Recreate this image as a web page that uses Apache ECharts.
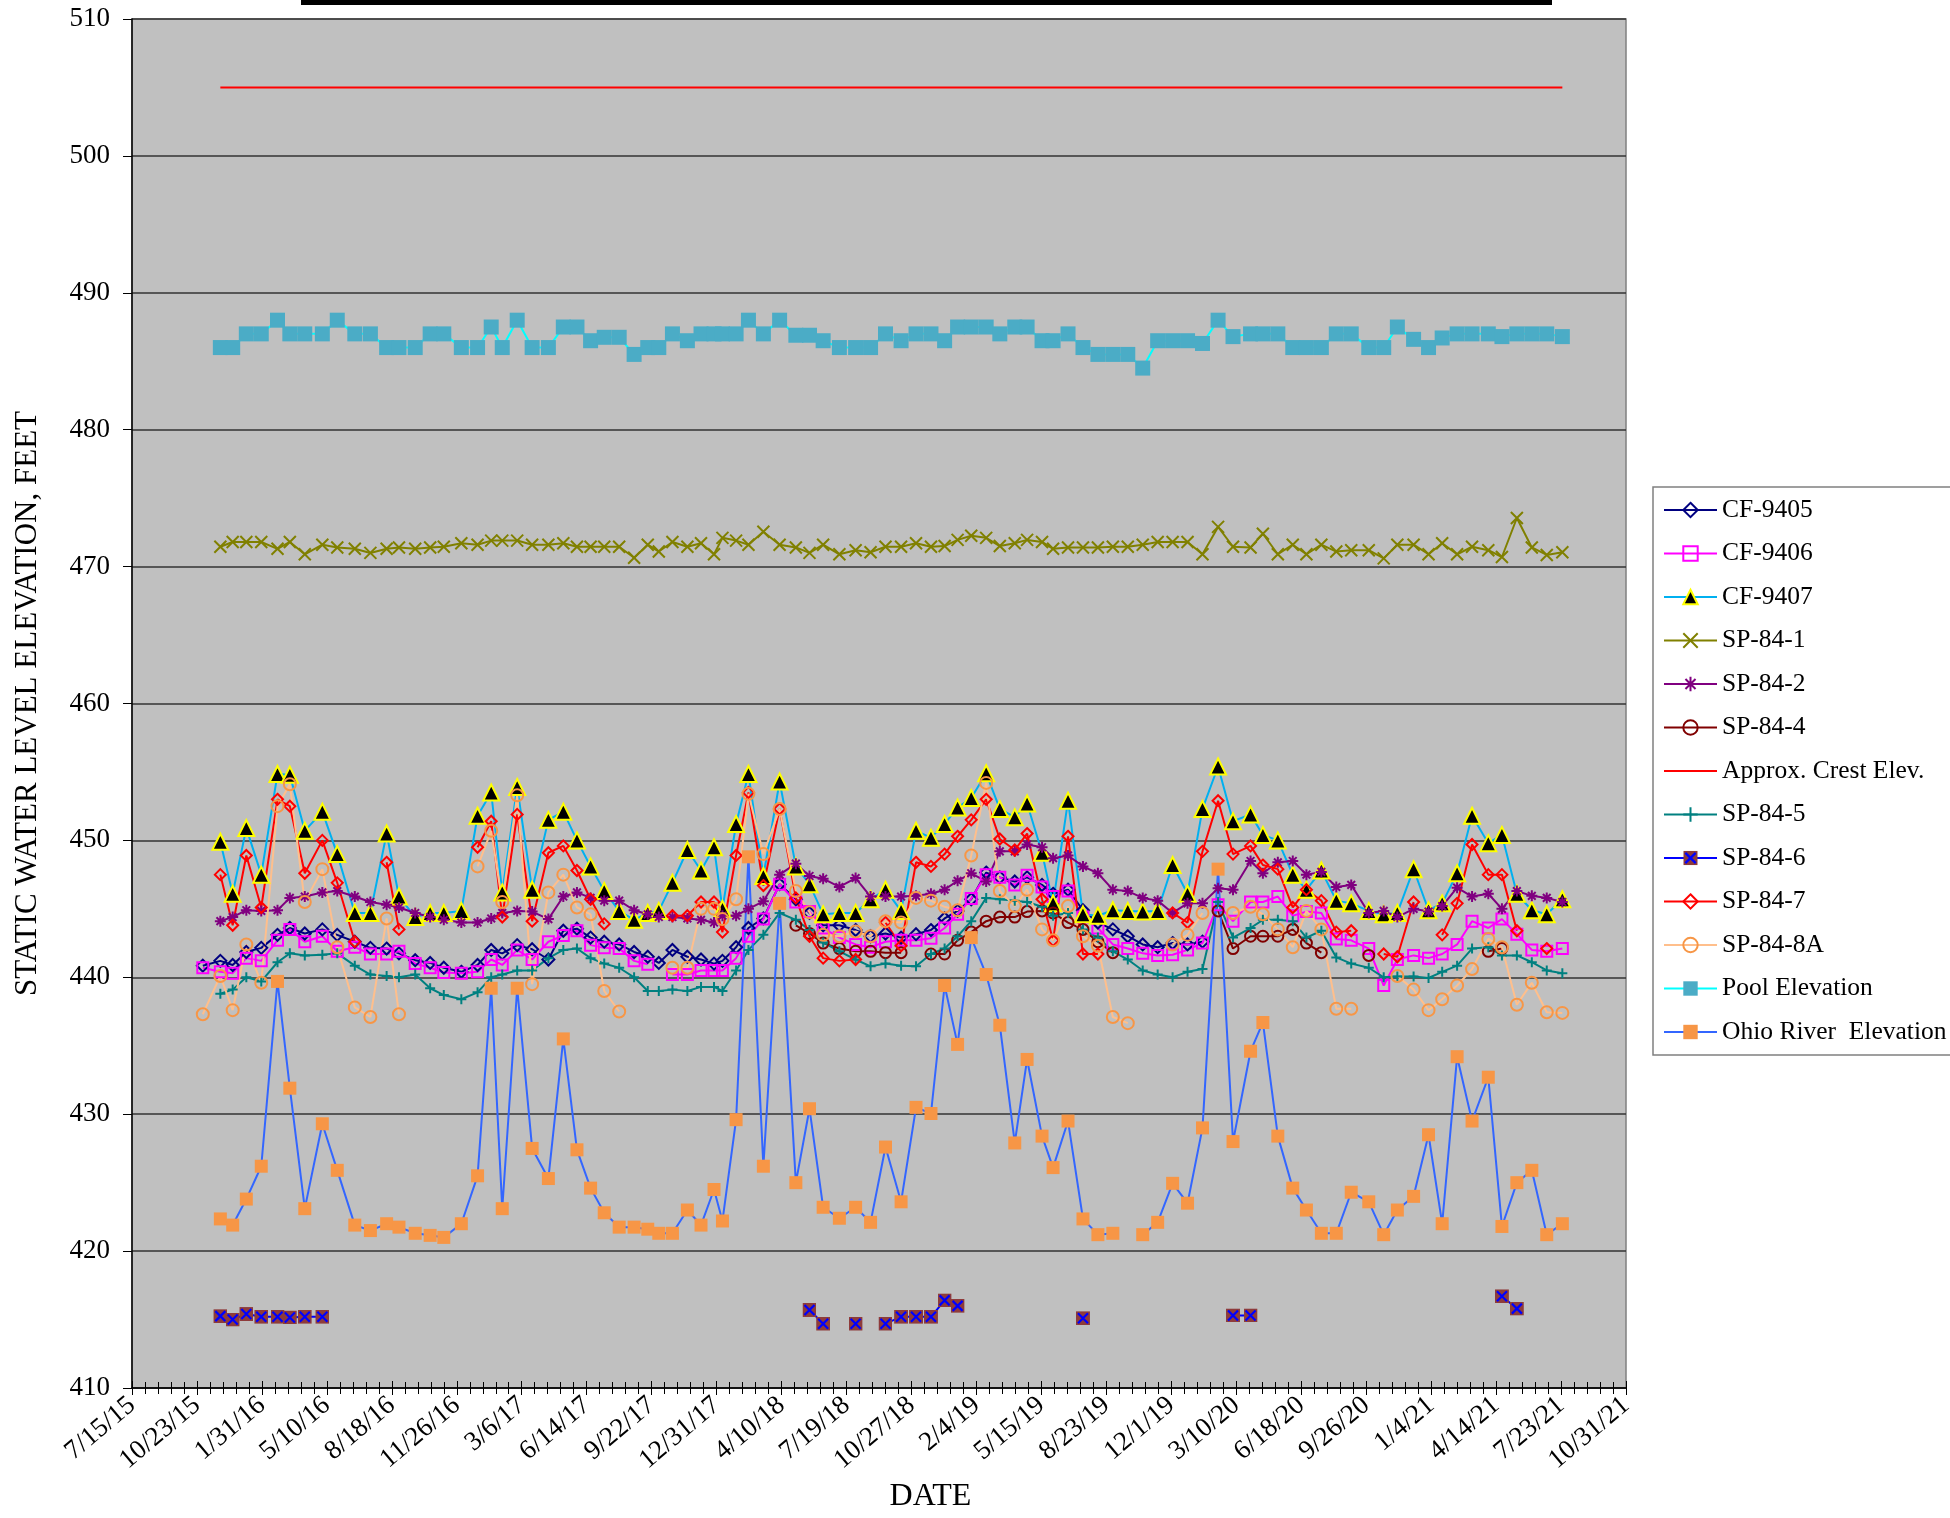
<!DOCTYPE html>
<html>
<head>
<meta charset="utf-8">
<title>Static Water Level Elevation</title>
<script src="https://cdn.jsdelivr.net/npm/echarts/dist/echarts.min.js"></script>
<style>
  html, body { margin: 0; padding: 0; background: #fff; }
  #chart { width: 1950px; height: 1518px; }
</style>
</head>
<body>
<div id="chart"></div>
<script>
// sampling events (shared by all wells / gauges)
const sampleDates = [
  '2015-11-01','2015-11-28','2015-12-17','2016-01-07','2016-01-30','2016-02-24','2016-03-14','2016-04-06','2016-05-03','2016-05-26',
  '2016-06-22','2016-07-16','2016-08-10','2016-08-29','2016-09-23','2016-10-16','2016-11-06','2016-12-03','2016-12-28','2017-01-18',
  '2017-02-04','2017-02-27','2017-03-22','2017-04-16','2017-05-09','2017-05-30','2017-06-20','2017-07-11','2017-08-03','2017-08-26',
  '2017-09-16','2017-10-03','2017-10-24','2017-11-16','2017-12-07','2017-12-27','2018-01-09','2018-01-30','2018-02-18','2018-03-13',
  '2018-04-07','2018-05-02','2018-05-23','2018-06-13','2018-07-08','2018-08-02','2018-08-25','2018-09-17','2018-10-11','2018-11-03',
  '2018-11-26','2018-12-17','2019-01-06','2019-01-27','2019-02-19','2019-03-12','2019-04-04','2019-04-23','2019-05-16','2019-06-02',
  '2019-06-25','2019-07-18','2019-08-10','2019-09-02','2019-09-25','2019-10-18','2019-11-10','2019-12-03','2019-12-26','2020-01-18',
  '2020-02-11','2020-03-05','2020-04-01','2020-04-20','2020-05-13','2020-06-05','2020-06-26','2020-07-19','2020-08-11','2020-09-03',
  '2020-09-30','2020-10-23','2020-11-13','2020-12-08','2020-12-31','2021-01-21','2021-02-13','2021-03-08','2021-04-02','2021-04-23',
  '2021-05-16','2021-06-08','2021-07-01','2021-07-25'
];

const cf9405 = [
  440.85,441.2,440.9,441.85,442.15,443.1,443.6,443.2,443.5,443.1,
  442.6,442.15,442.1,441.75,441.25,441.05,440.7,440.4,440.9,442.0,
  441.75,442.35,442.05,441.3,443.4,443.55,442.9,442.6,442.4,441.85,
  441.5,441.05,442.0,441.5,441.3,441.0,441.2,442.2,443.6,444.3,
  446.8,445.7,444.7,443.8,443.8,443.45,443.0,443.2,442.9,443.15,
  443.45,444.3,444.85,445.7,447.65,447.3,447.0,447.3,446.75,446.1,
  446.4,444.9,444.0,443.5,443.0,442.4,442.2,442.5,442.4,442.6,
  null,null,null,null,null,null,null,null,null,null,
  null,null,null,null,null,null,null,null,null,null,
  null,null,null,null
];
const cf9406 = [
  440.7,440.4,440.3,441.4,441.2,442.7,443.5,442.6,443.0,441.9,
  442.2,441.7,441.7,441.9,441.0,440.7,440.35,440.3,440.4,441.3,
  440.9,442.0,441.3,442.6,443.05,443.4,442.35,442.15,442.1,441.2,
  440.95,null,440.2,440.2,440.5,440.5,440.5,441.4,443.0,444.25,
  446.8,445.5,444.8,443.6,442.9,442.4,442.2,442.6,442.7,442.7,
  442.85,443.6,444.6,445.75,447.5,447.3,446.75,447.45,446.6,445.9,
  446.3,444.4,443.6,442.4,442.1,441.75,441.6,441.65,442.0,442.5,
  445.3,444.1,445.5,445.5,445.9,444.5,444.8,444.7,442.8,442.7,
  442.1,439.4,441.3,441.6,441.4,441.7,442.4,444.1,443.6,444.25,
  443.15,442.0,441.9,442.1
];
const cf9407 = [
  null,449.9,446.1,450.9,447.5,454.85,454.8,450.7,452.1,449.0,
  444.7,444.7,450.5,445.9,444.4,444.7,444.7,444.85,451.8,453.5,
  446.2,453.9,446.4,451.5,452.1,450.0,448.1,446.3,444.85,444.2,
  444.7,444.85,446.9,449.3,447.8,449.5,445.0,451.2,454.85,447.4,
  454.3,448.1,446.8,444.6,444.7,444.7,445.7,446.4,444.85,450.7,
  450.2,451.2,452.4,453.1,454.9,452.3,451.7,452.7,449.1,445.4,
  452.9,444.6,444.5,444.9,444.85,444.8,444.85,448.2,446.1,452.3,
  455.4,451.4,451.9,450.4,450.0,447.5,446.4,447.8,445.6,445.4,
  444.85,444.6,444.7,447.9,444.9,445.4,447.6,451.8,449.8,450.4,
  446.1,444.9,444.6,445.7
];
const sp841 = [
  null,471.45,471.8,471.8,471.8,471.3,471.8,470.9,471.6,471.4,
  471.3,471.0,471.3,471.4,471.3,471.4,471.45,471.7,471.6,471.9,
  471.9,471.9,471.6,471.6,471.7,471.45,471.45,471.45,471.45,470.65,
  471.6,471.1,471.8,471.45,471.7,470.9,472.1,471.9,471.6,472.55,
  471.6,471.4,471.0,471.6,470.9,471.2,471.05,471.45,471.45,471.7,
  471.45,471.5,471.95,472.25,472.1,471.5,471.7,471.95,471.8,471.3,
  471.4,471.4,471.4,471.45,471.45,471.6,471.8,471.8,471.8,470.9,
  472.9,471.45,471.4,472.4,470.9,471.6,470.9,471.6,471.1,471.2,
  471.2,470.6,471.6,471.6,470.9,471.7,470.9,471.45,471.2,470.7,
  473.55,471.4,470.85,471.05
];
const sp842 = [
  null,444.1,444.4,444.9,444.85,444.9,445.8,445.9,446.2,446.3,
  445.9,445.5,445.3,445.1,444.7,444.4,444.2,444.0,444.0,444.3,
  444.7,444.85,444.8,444.25,445.9,446.2,445.8,445.6,445.6,444.9,
  444.6,444.4,444.4,444.3,444.2,444.0,444.5,444.5,445.0,445.55,
  447.5,448.3,447.4,447.2,446.6,447.25,445.9,445.9,445.9,445.95,
  446.1,446.4,447.05,447.6,447.0,449.2,449.2,449.7,449.5,448.7,
  448.9,448.1,447.6,446.4,446.3,445.8,445.6,444.7,445.4,445.4,
  446.5,446.4,448.5,447.6,448.4,448.5,447.5,447.7,446.6,446.75,
  444.7,444.85,444.4,445.0,444.8,445.2,446.55,445.9,446.1,445.0,
  446.3,445.95,445.8,445.5
];
const sp844 = [
  null,null,null,null,null,null,null,null,null,null,
  null,null,null,null,null,null,null,null,null,null,
  null,null,null,null,null,null,null,null,null,null,
  null,null,null,null,null,null,null,null,null,null,
  null,443.8,443.2,442.5,442.1,441.9,441.9,441.8,441.8,null,
  441.7,441.7,442.7,443.3,444.1,444.4,444.4,444.8,444.85,444.7,
  444.0,443.5,442.6,441.8,null,null,null,null,null,null,
  444.85,442.1,443.0,443.0,443.0,443.5,442.5,441.8,null,null,
  441.6,null,null,null,null,null,null,null,441.9,442.1,
  null,null,null,null
];
const sp845 = [
  null,438.8,439.1,440.0,439.7,441.1,441.75,441.6,441.65,441.75,
  440.85,440.2,440.1,440.0,440.2,439.2,438.7,438.4,438.9,440.0,
  440.2,440.5,440.5,441.4,442.0,442.1,441.4,441.0,440.7,440.0,
  439.0,439.0,439.1,439.0,439.3,439.3,439.0,440.5,442.0,443.1,
  444.7,444.2,443.45,442.55,441.9,441.3,440.8,441.0,440.85,440.8,
  441.7,442.1,443.0,444.1,445.8,445.7,445.6,445.5,445.15,444.5,
  444.7,443.5,442.9,441.9,441.3,440.5,440.2,440.0,440.4,440.6,
  445.5,442.9,443.6,444.2,444.2,444.1,442.9,443.4,441.45,441.0,
  440.7,440.0,440.05,440.05,439.95,440.4,440.85,442.1,442.2,441.6,
  441.6,441.1,440.5,440.3
];
const sp846 = [
  null,415.25,415.0,415.4,415.2,415.2,415.15,415.2,415.2,null,
  null,null,null,null,null,null,null,null,null,null,
  null,null,null,null,null,null,null,null,null,null,
  null,null,null,null,null,null,null,null,null,null,
  null,null,415.7,414.7,null,414.7,null,414.7,415.2,415.2,
  415.2,416.4,416.0,null,null,null,null,null,null,null,
  null,415.1,null,null,null,null,null,null,null,null,
  null,415.3,415.3,null,null,null,null,null,null,null,
  null,null,null,null,null,null,null,null,null,416.7,
  415.8,null,null,null
];
const sp847 = [
  null,447.5,443.8,448.9,445.1,453.0,452.5,447.6,450.0,446.9,
  442.6,null,448.4,443.5,null,null,null,null,449.5,451.4,
  444.4,451.9,444.1,449.1,449.6,447.8,445.7,443.9,null,null,
  null,null,444.5,444.5,445.5,445.5,443.3,448.9,453.5,446.7,
  452.3,445.8,443.0,441.4,441.2,441.3,null,444.0,442.3,448.4,
  448.1,449.0,450.3,451.5,453.0,450.1,449.3,450.5,445.7,442.7,
  450.3,441.7,441.7,null,null,null,null,444.7,444.0,449.2,
  452.9,449.0,449.6,448.2,447.9,445.1,446.4,445.6,443.3,443.4,
  null,441.7,441.5,445.5,null,443.1,445.4,449.7,447.5,447.5,
  443.4,null,442.1,null
];
const sp848a = [
  437.3,440.1,437.6,442.4,439.6,452.5,454.1,445.5,447.9,442.2,
  437.8,437.1,444.3,437.3,null,null,null,null,448.1,450.7,
  445.5,453.3,439.5,446.2,447.5,445.1,444.6,439.0,437.5,null,
  null,null,440.7,440.7,445.0,445.0,444.25,445.7,453.4,449.0,
  452.3,446.3,444.75,443.1,443.0,443.35,443.0,444.1,444.0,445.8,
  445.6,445.15,444.9,448.9,454.2,446.3,445.2,446.4,443.5,442.7,
  445.2,443.0,442.3,437.1,436.65,null,null,442.4,443.1,444.7,
  null,444.7,445.15,444.6,443.5,442.2,444.85,443.5,437.7,437.7,
  null,null,440.1,439.1,437.6,438.4,439.4,440.6,442.8,442.2,
  438.0,439.6,437.45,437.4
];
const poolElev = [
  null,486.0,486.0,487.0,487.0,488.0,487.0,487.0,487.0,488.0,
  487.0,487.0,486.0,486.0,486.0,487.0,487.0,486.0,486.0,487.5,
  486.0,488.0,486.0,486.0,487.5,487.5,486.5,486.75,486.75,485.5,
  486.0,486.0,487.0,486.5,487.0,487.0,487.0,487.0,488.0,487.0,
  488.0,486.9,486.9,486.5,486.0,486.0,486.0,487.0,486.5,487.0,
  487.0,486.5,487.5,487.5,487.5,487.0,487.5,487.5,486.5,486.5,
  487.0,486.0,485.5,485.5,485.5,484.5,486.5,486.5,486.5,486.3,
  488.0,486.8,487.0,487.0,487.0,486.0,486.0,486.0,487.0,487.0,
  486.0,486.0,487.5,486.6,486.0,486.7,487.0,487.0,487.0,486.8,
  487.0,487.0,487.0,486.8
];
const ohioElev = [
  null,422.35,421.9,423.8,426.2,439.7,431.9,423.1,429.3,425.9,
  421.9,421.5,422.0,421.75,421.3,421.15,421.0,422.0,425.5,439.2,
  423.1,439.2,427.5,425.3,435.5,427.4,424.6,422.8,421.75,421.75,
  421.6,421.3,421.3,423.0,421.9,424.5,422.2,429.6,448.8,426.2,
  445.4,425.0,430.4,423.2,422.4,423.2,422.1,427.6,423.6,430.5,
  430.05,439.4,435.1,442.9,440.2,436.5,427.9,434.0,428.4,426.1,
  429.5,422.35,421.2,421.3,null,421.2,422.1,424.95,423.5,429.0,
  447.9,428.0,434.6,436.7,428.4,424.6,423.0,421.3,421.3,424.3,
  423.6,421.2,423.0,424.0,428.5,422.0,434.2,429.5,432.7,421.8,
  425.0,425.9,421.2,422.0
];
const crestDates = ['2015-11-28', '2021-07-25'];
const crestElev = [505, 505];

const axisStart = Date.UTC(2015, 6, 15); // 7/15/15, left end of the date axis
const DAY = 86400000;
const serif = '"Liberation Serif", "Times New Roman", serif';

function dayNo(s) {
  const p = s.split('-').map(Number);
  return (Date.UTC(p[0], p[1] - 1, p[2]) - axisStart) / DAY;
}
function dateLabel(v) {
  const d = new Date(axisStart + v * DAY);
  return (d.getUTCMonth() + 1) + '/' + d.getUTCDate() + '/' + String(d.getUTCFullYear()).slice(2);
}
function pts(vals, dates) {
  dates = dates || sampleDates;
  return dates.map((d, i) => [dayNo(d), vals[i] == null ? '-' : vals[i]]);
}

const X_PATH = 'path://M0,0L10,10M10,0L0,10';
const STAR_PATH = 'path://M5,0L5,10M0,5L10,5M1.5,1.5L8.5,8.5M8.5,1.5L1.5,8.5';
const PLUS_PATH = 'path://M5,0L5,10M0,5L10,5';
const sp6Svg = "<svg xmlns='http://www.w3.org/2000/svg' width='14' height='14'>" +
  "<rect width='14' height='14' fill='#8E3B3B'/>" +
  "<path d='M2 2L12 12M12 2L2 12' stroke='#0000FF' stroke-width='2.2'/></svg>";
const SP6_IMG = 'image://data:image/svg+xml;charset=utf-8,' + encodeURIComponent(sp6Svg);

function lineSeries(name, data, color, symbol, size, itemStyle) {
  return {
    name: name,
    type: 'line',
    data: data,
    symbol: symbol,
    symbolSize: size,
    showSymbol: symbol !== 'none',
    lineStyle: { color: color, width: 2 },
    itemStyle: itemStyle || { color: color },
    emphasis: { disabled: true },
    animation: false
  };
}
function hollow(c) { return { color: 'rgba(0,0,0,0)', borderColor: c, borderWidth: 2 }; }
function stroked(c) { return { color: c, borderColor: c, borderWidth: 2 }; }

const chart = echarts.init(document.getElementById('chart'));

chart.setOption({
  backgroundColor: '#fff',
  animation: false,
  grid: {
    left: 132, right: 324, top: 19, bottom: 126,
    show: true, backgroundColor: '#C0C0C0', borderColor: '#808080', borderWidth: 1.5
  },
  graphic: [{
    type: 'rect', left: 301, top: 0,
    shape: { width: 1251, height: 5 },
    style: { fill: '#000' }
  }],
  legend: {
    orient: 'vertical',
    left: 1653, top: 487,
    padding: [10, 30, 10, 10],
    itemWidth: 53, itemHeight: 18, itemGap: 17.5,
    backgroundColor: '#fff', borderColor: '#808080', borderWidth: 1.5,
    textStyle: { fontFamily: serif, fontSize: 25.5, lineHeight: 24, color: '#000' },
    data: ['CF-9405', 'CF-9406', 'CF-9407', 'SP-84-1', 'SP-84-2', 'SP-84-4',
      { name: 'Approx. Crest Elev.', itemStyle: { opacity: 0 } },
      'SP-84-5', 'SP-84-6', 'SP-84-7', 'SP-84-8A', 'Pool Elevation', 'Ohio River  Elevation']
  },
  xAxis: [{
    type: 'value', min: 0, max: 2300, interval: 100,
    name: 'DATE', nameLocation: 'middle', nameGap: 93,
    nameTextStyle: { fontFamily: serif, fontSize: 32, color: '#000', padding: [0, 0, 0, 103] },
    axisLine: { show: true, onZero: false, lineStyle: { color: '#000', width: 1.5 } },
    axisTick: { show: true, length: 7, lineStyle: { color: '#000' } },
    minorTick: { show: true, splitNumber: 5, length: 6, lineStyle: { color: '#000' } },
    axisLabel: {
      rotate: 40, margin: 14, fontFamily: serif, fontSize: 27, color: '#000',
      formatter: dateLabel
    },
    splitLine: { show: false }
  }, {
    type: 'value', min: 0, max: 2300, interval: 100, position: 'bottom',
    axisLine: { show: false },
    axisTick: { show: true, inside: true, length: 7, lineStyle: { color: '#000' } },
    minorTick: { show: true, splitNumber: 5, length: 6, lineStyle: { color: '#000' } },
    axisLabel: { show: false },
    splitLine: { show: false }
  }],
  yAxis: {
    type: 'value', min: 410, max: 510, interval: 10,
    name: 'STATIC WATER LEVEL ELEVATION, FEET', nameLocation: 'middle', nameGap: 89,
    nameTextStyle: { fontFamily: serif, fontSize: 31, color: '#000' },
    axisLine: { show: true, lineStyle: { color: '#000', width: 1.5 } },
    axisTick: { show: true, length: 9, lineStyle: { color: '#000' } },
    axisLabel: { fontFamily: serif, fontSize: 27, color: '#000', margin: 22 },
    splitLine: { show: true, lineStyle: { color: '#333', width: 1.5 } }
  },
  series: [
    lineSeries('CF-9405', pts(cf9405), '#000080', 'diamond', 12, hollow('#000080')),
    lineSeries('CF-9406', pts(cf9406), '#FF00FF', 'rect', 11, hollow('#FF00FF')),
    lineSeries('CF-9407', pts(cf9407), '#00B0F0', 'triangle', 16,
      { color: '#000', borderColor: '#FFFF00', borderWidth: 2 }),
    lineSeries('SP-84-1', pts(sp841), '#808000', X_PATH, 12, stroked('#808000')),
    lineSeries('SP-84-2', pts(sp842), '#800080', STAR_PATH, 11, stroked('#800080')),
    lineSeries('SP-84-4', pts(sp844), '#800000', 'circle', 11, hollow('#800000')),
    lineSeries('Approx. Crest Elev.', pts(crestElev, crestDates), '#FF0000', 'none', 0),
    lineSeries('SP-84-5', pts(sp845), '#008080', PLUS_PATH, 10, stroked('#008080')),
    lineSeries('SP-84-6', pts(sp846), '#0000FF', SP6_IMG, 14, { color: '#8E3B3B' }),
    lineSeries('SP-84-7', pts(sp847), '#FF0000', 'diamond', 11, hollow('#FF0000')),
    lineSeries('SP-84-8A', pts(sp848a), '#FFBF8C', 'circle', 12, hollow('#F79646')),
    lineSeries('Pool Elevation', pts(poolElev), '#00FFFF', 'rect', 15, { color: '#4BACC6' }),
    lineSeries('Ohio River  Elevation', pts(ohioElev), '#3366FF', 'rect', 13, { color: '#F79646' })
  ]
});
</script>
</body>
</html>
